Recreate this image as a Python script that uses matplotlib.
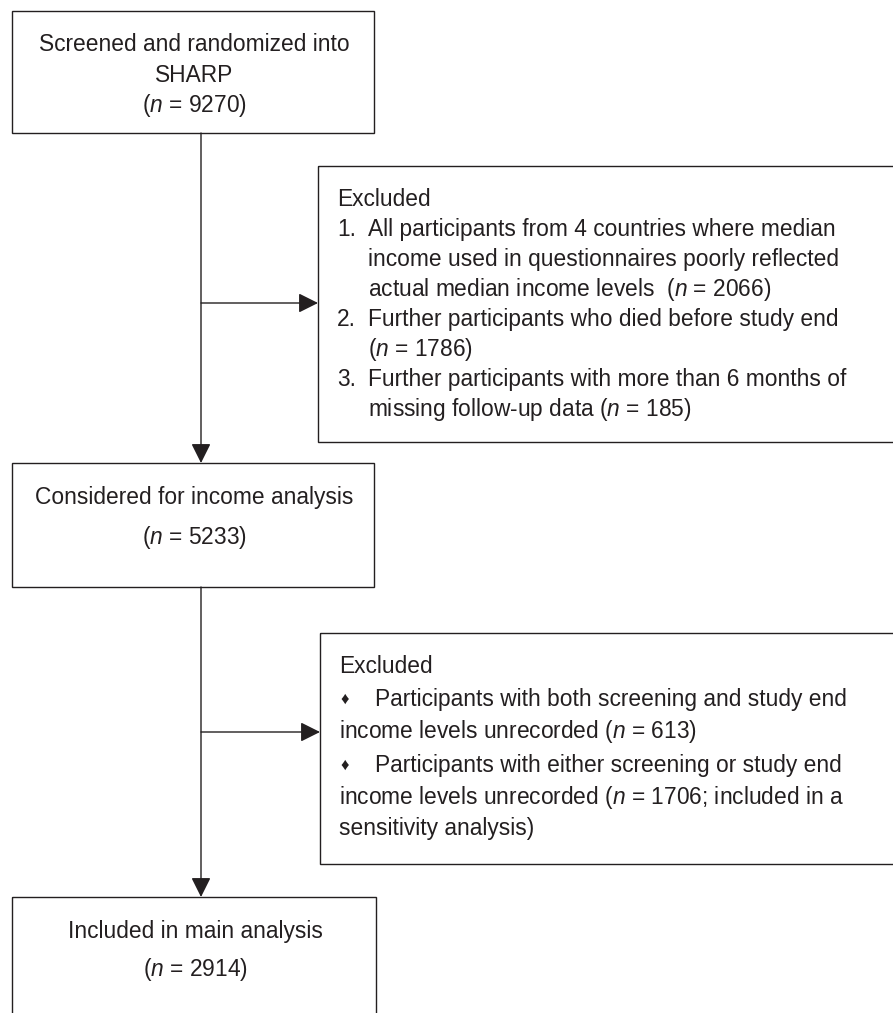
import matplotlib.pyplot as plt
from matplotlib.patches import Rectangle

plt.rcParams['font.family'] = ['Liberation Sans', 'DejaVu Sans']
plt.rcParams['mathtext.fontset'] = 'custom'
plt.rcParams['mathtext.it'] = 'Liberation Sans:italic'
plt.rcParams['mathtext.rm'] = 'Liberation Sans'

INK = '#231f20'
FS = 16.4

# flow counts
n_screened = 9270
n_considered = 5233
n_included = 2914
excl_first = [2066, 1786, 185]
excl_second = [613, 1706]


def n_txt(v, tail=')'):
    return '($\\mathit{n}$ = %d%s' % (v, tail)


main_boxes = [
    # (x0, y0, x1, y1, lines, baselines)
    (12, 11, 374, 133, ['Screened and randomized into', 'SHARP', n_txt(n_screened)], [51, 82, 112]),
    (12, 463, 374, 587, ['Considered for income analysis', n_txt(n_considered)], [504, 544]),
    (12, 897, 376, 1040, ['Included in main analysis', n_txt(n_included)], [938, 976]),
]

excl1_lines = [
    ('', 'Excluded'),
    ('1.', 'All participants from 4 countries where median'),
    ('', 'income used in questionnaires poorly reflected'),
    ('', 'actual median income levels  ' + n_txt(excl_first[0])),
    ('2.', 'Further participants who died before study end'),
    ('', n_txt(excl_first[1])),
    ('3.', 'Further participants with more than 6 months of'),
    ('', 'missing follow-up data ' + n_txt(excl_first[2])),
]
excl1_base = [206, 236, 266, 296, 326, 356, 386, 416]

excl2_lines = [
    ('', 'Excluded'),
    ('\u2666', 'Participants with both screening and study end'),
    ('', 'income levels unrecorded ' + n_txt(excl_second[0])),
    ('\u2666', 'Participants with either screening or study end'),
    ('', 'income levels unrecorded ' + n_txt(excl_second[1], '; included in a')),
    ('', 'sensitivity analysis)'),
]
excl2_base = [673, 706, 738, 772, 804, 835]

fig = plt.figure(figsize=(8.93, 10.13), dpi=100)
ax = fig.add_axes([0, 0, 1, 1])
ax.set_xlim(0, 893)
ax.set_ylim(1013, 0)
ax.axis('off')


def box(x0, y0, x1, y1):
    ax.add_patch(Rectangle((x0, y0), x1 - x0, y1 - y0, fill=False,
                           edgecolor=INK, lw=1.0, clip_on=False))


def arrow(x0, y0, x1, y1):
    ax.annotate('', xy=(x1, y1), xytext=(x0, y0),
                arrowprops=dict(arrowstyle='-|>,head_length=0.6,head_width=0.3',
                                color=INK, lw=1.0, shrinkA=0, shrinkB=0,
                                mutation_scale=20))


for x0, y0, x1, y1, lines, bases in main_boxes:
    box(x0, y0, x1, y1)
    for t, b in zip(lines, bases):
        ax.text((x0 + x1) / 2 + 1, b, t, ha='center', va='baseline', fontsize=FS, color=INK)

# exclusion boxes
box(318, 166, 895, 442)
for (lab, t), b in zip(excl1_lines, excl1_base):
    if lab:
        ax.text(337, b, lab, ha='left', va='baseline', fontsize=FS, color=INK)
        ax.text(368, b, t, ha='left', va='baseline', fontsize=FS, color=INK)
    elif t == 'Excluded':
        ax.text(337, b, t, ha='left', va='baseline', fontsize=FS, color=INK)
    else:
        ax.text(368, b, t, ha='left', va='baseline', fontsize=FS, color=INK)

box(320, 633, 895, 864)
for (lab, t), b in zip(excl2_lines, excl2_base):
    if lab:
        ax.text(345, b - 7, lab, ha='center', va='center', fontsize=12, color=INK)
        ax.text(375, b, t, ha='left', va='baseline', fontsize=FS, color=INK)
    else:
        ax.text(339, b, t, ha='left', va='baseline', fontsize=FS, color=INK)

# connectors
arrow(201, 133, 201, 463)
arrow(201, 303, 318, 303)
arrow(201, 587, 201, 897)
arrow(201, 732, 320, 732)

fig.savefig('out.png', dpi=100, facecolor='white')
